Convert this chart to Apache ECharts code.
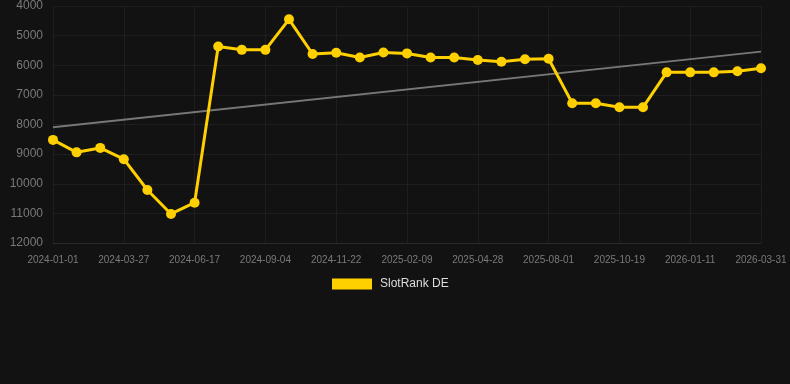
<!DOCTYPE html>
<html>
<head>
<meta charset="utf-8">
<script src="https://cdn.jsdelivr.net/npm/echarts@6/dist/echarts.min.js"></script>
<style>
  html, body { margin: 0; padding: 0; background: #121212; }
  #main { width: 790px; height: 384px; }
</style>
</head>
<body>
<div id="main"></div>
<script>
// dates (only every 3rd one shows on the axis)
var dates = [
  '2024-01-01', '2024-01-30', '2024-02-28', '2024-03-27', '2024-04-24', '2024-05-21',
  '2024-06-17', '2024-07-13', '2024-08-09', '2024-09-04', '2024-09-30', '2024-10-27',
  '2024-11-22', '2024-12-18', '2025-01-14', '2025-02-09', '2025-03-07', '2025-04-02',
  '2025-04-28', '2025-05-30', '2025-07-01', '2025-08-01', '2025-08-27', '2025-09-22',
  '2025-10-19', '2025-11-16', '2025-12-14', '2026-01-11', '2026-02-06', '2026-03-05',
  '2026-03-31'
]
var rank = [
  8520, 8940, 8790, 9170, 10210, 11020, 10640, 5370, 5480, 5480, 4450,
  5620, 5580, 5740, 5570, 5600, 5740, 5740, 5820, 5880, 5800, 5780,
  7280, 7280, 7420, 7420, 6240, 6240, 6240, 6200, 6100
]
var trendStart = 8090
var trendEnd = 5540
var yTicks = [4000, 12000, 1000] // min, max, step

var chart = echarts.init(document.getElementById('main'))
var option = {
  backgroundColor: '#121212',
  animation: false,
  grid: { left: 53, right: 29, top: 6, bottom: 141 },
  legend: {
    top: 278,
    left: 332,
    padding: 0,
    itemWidth: 40,
    itemHeight: 11,
    icon: 'rect',
    textStyle: { color: '#dddddd', fontSize: 12, padding: [0, 0, 0, 3], fontFamily: 'Liberation Sans, Arial, sans-serif' },
    data: ['SlotRank DE']
  },
  xAxis: {
    type: 'category',
    boundaryGap: false,
    data: dates,
    axisLine: { lineStyle: { color: '#2a2a2a' } },
    axisTick: { show: false },
    axisLabel: {
      interval: 2,
      color: '#7a7a7a',
      fontSize: 10,
      margin: 12,
      fontFamily: 'Liberation Sans, Arial, sans-serif'
    },
    splitLine: { show: true, interval: 2, lineStyle: { color: '#1e1e1e' } }
  },
  yAxis: {
    type: 'value',
    inverse: true,
    min: yTicks[0],
    max: yTicks[1],
    interval: yTicks[2],
    axisLine: { show: false },
    axisTick: { show: false },
    axisLabel: {
      color: '#7a7a7a',
      fontSize: 12,
      margin: 10,
      formatter: function (v) { return String(v) },
      fontFamily: 'Liberation Sans, Arial, sans-serif'
    },
    splitLine: { lineStyle: { color: '#1e1e1e' } }
  },
  series: [
    {
      name: 'trend',
      type: 'line',
      data: [[dates[0], trendStart], [dates[dates.length - 1], trendEnd]],
      symbol: 'none',
      lineStyle: { color: '#777777', width: 2 },
      silent: true,
      z: 1
    },
    {
      name: 'SlotRank DE',
      type: 'line',
      data: rank,
      symbol: 'circle',
      symbolSize: 10,
      itemStyle: { color: '#ffd000' },
      lineStyle: { color: '#ffd000', width: 3 },
      z: 2
    }
  ]
}
chart.setOption(option)
</script>
</body>
</html>
